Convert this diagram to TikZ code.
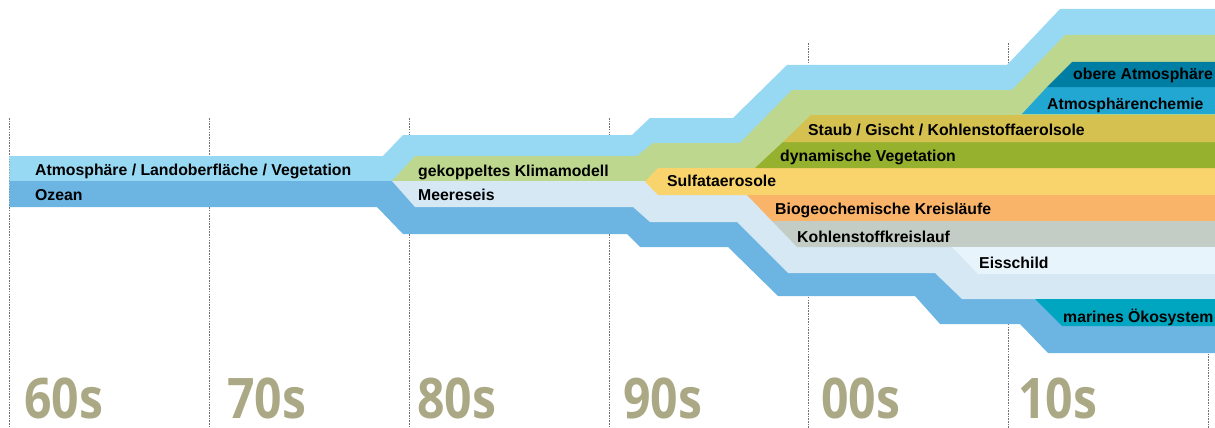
\documentclass[tikz,border=0pt]{standalone}
\usepackage{fontspec}
\setmainfont{Liberation Sans}
\newfontfamily\decfont{Open Sans}
\definecolor{cLB}{HTML}{97D8F3}
\definecolor{cOC}{HTML}{6CB4E1}
\definecolor{cGR}{HTML}{BDD88E}
\definecolor{cME}{HTML}{D5E8F4}
\definecolor{cSU}{HTML}{F9D36C}
\definecolor{cDV}{HTML}{95B12D}
\definecolor{cST}{HTML}{D5C150}
\definecolor{cOA}{HTML}{007DA3}
\definecolor{cAC}{HTML}{22A7D2}
\definecolor{cBG}{HTML}{F9B46A}
\definecolor{cKK}{HTML}{C4CDC5}
\definecolor{cEI}{HTML}{E8F4FC}
\definecolor{cMO}{HTML}{00A6C0}
\definecolor{cDec}{HTML}{ABA985}
\tikzset{
  band/.style={draw=none},
  lbl/.style={anchor=base west, inner sep=0pt, font=\fontsize{15.8}{18}\selectfont\bfseries, text=black},
  dec/.style={anchor=base west, inner sep=0pt, text=cDec, font=\decfont\bfseries\fontsize{56}{60}\selectfont},
  decline/.style={draw=gray!90!black, line width=0.8pt, dash pattern=on 1.6pt off 1.1pt}
}
\begin{document}
\begin{tikzpicture}[x=1pt,y=-1pt]
\useasboundingbox (0,0) rectangle (1215,428);
% decade lines
\foreach \xx/\yy in {9.5/118,209.5/118,409.5/118,609.5/118,808.5/43,1008.5/43,1208.5/43}
  \draw[decline] (\xx,\yy) -- (\xx,428);
% atmosphere base band
\fill[band,cLB] (9.3,156) -- (383,156) -- (403,135) -- (632,135) -- (650,118) -- (733,118) -- (787,65) -- (1007,65) -- (1060,9) -- (1215,9) -- (1215,181) -- (9.3,181) -- cycle;
% ocean band
\fill[band,cOC] (9.3,181) -- (1215,181) -- (1215,353) -- (1048,353) -- (1020,324) -- (940,324) -- (915,296) -- (778,296) -- (728,247) -- (640,247) -- (627,234) -- (403,234) -- (377,207) -- (9.3,207) -- cycle;
% coupled climate model
\fill[band,cGR] (392,181) -- (415,156) -- (637,156) -- (653,143) -- (740,143) -- (792,90) -- (1012,90) -- (1065,35) -- (1215,35) -- (1215,181) -- cycle;
% sea ice
\fill[band,cME] (392,181) -- (415,207) -- (633,207) -- (650,222) -- (737,222) -- (788,273) -- (935,273) -- (962,299) -- (1215,299) -- (1215,181) -- cycle;
% sulfate aerosols
\fill[band,cSU] (645,181.5) -- (658,168) -- (1215,168) -- (1215,195) -- (658,195) -- cycle;
% dynamic vegetation
\fill[band,cDV] (755,168) -- (783,142) -- (1215,142) -- (1215,168) -- cycle;
% dust / sea salt / carbon aerosols
\fill[band,cST] (783,142) -- (811,115) -- (1215,115) -- (1215,142) -- cycle;
% atmospheric chemistry
\fill[band,cAC] (1022,114) -- (1047,87) -- (1215,87) -- (1215,114) -- cycle;
% upper atmosphere
\fill[band,cOA] (1047,87) -- (1072,62) -- (1215,62) -- (1215,87) -- cycle;
% biogeochemical cycles
\fill[band,cBG] (747,195) -- (1215,195) -- (1215,221) -- (772,221) -- cycle;
% carbon cycle
\fill[band,cKK] (772,221) -- (1215,221) -- (1215,247) -- (797,247) -- cycle;
% ice sheet
\fill[band,cEI] (952,247) -- (1215,247) -- (1215,274) -- (978,274) -- cycle;
% marine ecosystem
\fill[band,cMO] (1035,299) -- (1215,299) -- (1215,326) -- (1062,326) -- cycle;
% labels
\node[lbl] (atm) at (35,175) {Atmosphäre / Landoberfläche / Vegetation};
\node[lbl] (oze) at (35,200) {Ozean};
\node[lbl] (gek) at (418,176.5) {gekoppeltes Klimamodell};
\node[lbl] (mee) at (418,200.5) {Meereseis};
\node[lbl] (sul) at (667,186.5) {Sulfataerosole};
\node[lbl] (sta) at (808,135) {Staub / Gischt / Kohlenstoffaerolsole};
\node[lbl] (dyn) at (780,161.5) {dynamische Vegetation};
\node[lbl] (bio) at (775,214) {Biogeochemische Kreisläufe};
\node[lbl] (koh) at (797,242) {Kohlenstoffkreislauf};
\node[lbl] (eis) at (979,268) {Eisschild};
\node[lbl] (mar) at (1063,322) {marines Ökosystem};
\node[lbl] (obe) at (1073,79) {obere Atmosphäre};
\node[lbl] (ach) at (1047,109) {Atmosphärenchemie};
% decades
\node[dec] (d60) at (24,418) {\scalebox{0.86}[1]{60s}};
\node[dec] (d70) at (227,418) {\scalebox{0.86}[1]{70s}};
\node[dec] (d80) at (417,418) {\scalebox{0.86}[1]{80s}};
\node[dec] (d90) at (623,418) {\scalebox{0.86}[1]{90s}};
\node[dec] (d00) at (821,418) {\scalebox{0.86}[1]{00s}};
\node[dec] (d10) at (1018,418) {\scalebox{0.86}[1]{10s}};
\end{tikzpicture}
\end{document}
